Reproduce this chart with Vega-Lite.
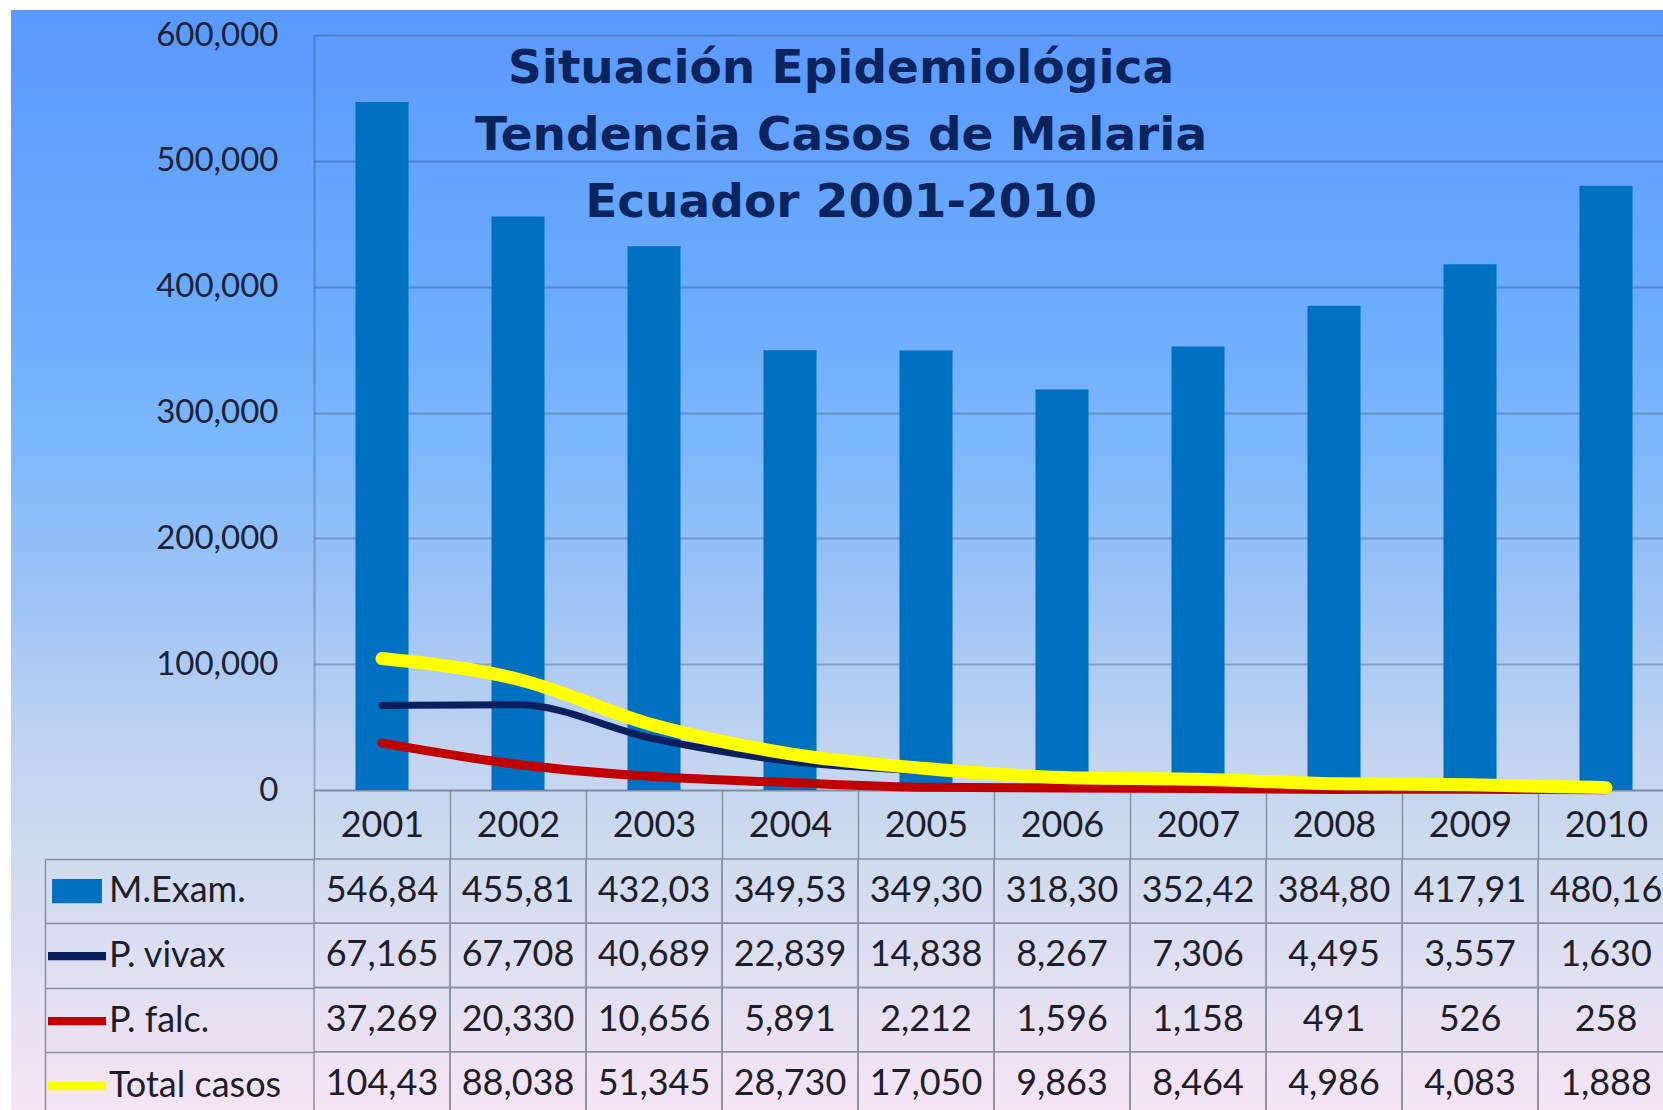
{
  "$schema": "https://vega.github.io/schema/vega-lite/v6.json",
  "autosize": "none",
  "width": 1652,
  "height": 1100,
  "padding": {"left": 11, "top": 10, "right": 0, "bottom": 0},
  "background": "white",
  "title": {
    "text": ["Situación Epidemiológica", "Tendencia Casos de Malaria", "Ecuador 2001-2010"],
    "anchor": "middle",
    "frame": "group",
    "orient": "top",
    "font": "DejaVu Sans",
    "fontSize": 47,
    "fontWeight": "bold",
    "color": "#0b245e",
    "lineHeight": 67,
    "baseline": "top",
    "offset": 0,
    "dx": 4,
    "dy": 217
  },
  "data": {
    "values": [
      {"year": 2001, "series": "M.Exam.", "value": 546840},
      {"year": 2002, "series": "M.Exam.", "value": 455810},
      {"year": 2003, "series": "M.Exam.", "value": 432030},
      {"year": 2004, "series": "M.Exam.", "value": 349530},
      {"year": 2005, "series": "M.Exam.", "value": 349300},
      {"year": 2006, "series": "M.Exam.", "value": 318300},
      {"year": 2007, "series": "M.Exam.", "value": 352420},
      {"year": 2008, "series": "M.Exam.", "value": 384800},
      {"year": 2009, "series": "M.Exam.", "value": 417910},
      {"year": 2010, "series": "M.Exam.", "value": 480160},
      {"year": 2001, "series": "P. vivax", "value": 67165},
      {"year": 2002, "series": "P. vivax", "value": 67708},
      {"year": 2003, "series": "P. vivax", "value": 40689},
      {"year": 2004, "series": "P. vivax", "value": 22839},
      {"year": 2005, "series": "P. vivax", "value": 14838},
      {"year": 2006, "series": "P. vivax", "value": 8267},
      {"year": 2007, "series": "P. vivax", "value": 7306},
      {"year": 2008, "series": "P. vivax", "value": 4495},
      {"year": 2009, "series": "P. vivax", "value": 3557},
      {"year": 2010, "series": "P. vivax", "value": 1630},
      {"year": 2001, "series": "P. falc.", "value": 37269},
      {"year": 2002, "series": "P. falc.", "value": 20330},
      {"year": 2003, "series": "P. falc.", "value": 10656},
      {"year": 2004, "series": "P. falc.", "value": 5891},
      {"year": 2005, "series": "P. falc.", "value": 2212},
      {"year": 2006, "series": "P. falc.", "value": 1596},
      {"year": 2007, "series": "P. falc.", "value": 1158},
      {"year": 2008, "series": "P. falc.", "value": 491},
      {"year": 2009, "series": "P. falc.", "value": 526},
      {"year": 2010, "series": "P. falc.", "value": 258},
      {"year": 2001, "series": "Total casos", "value": 104434},
      {"year": 2002, "series": "Total casos", "value": 88038},
      {"year": 2003, "series": "Total casos", "value": 51345},
      {"year": 2004, "series": "Total casos", "value": 28730},
      {"year": 2005, "series": "Total casos", "value": 17050},
      {"year": 2006, "series": "Total casos", "value": 9863},
      {"year": 2007, "series": "Total casos", "value": 8464},
      {"year": 2008, "series": "Total casos", "value": 4986},
      {"year": 2009, "series": "Total casos", "value": 4083},
      {"year": 2010, "series": "Total casos", "value": 1888}
    ]
  },
  "layer": [
    {
      "encoding": {
        "x": {
          "field": "year",
          "type": "ordinal",
          "scale": {"domain": [2001, 2002, 2003, 2004, 2005, 2006, 2007, 2008, 2009, 2010], "range": [303, 1663], "paddingInner": 0, "paddingOuter": 0},
          "axis": {
            "orient": "bottom",
            "offset": -320,
            "title": null,
            "labelAngle": 0,
            "labelFont": "Lato",
            "labelFontSize": 36,
            "labelColor": "#1e1e2a",
            "labelPadding": -50,
            "labelOverlap": false,
            "tickBand": "extent",
            "tickSize": 68,
            "tickColor": "#8890a0",
            "tickWidth": 1.5,
            "domainColor": "#7f8aa0",
            "domainWidth": 1.5,
            "grid": false
          }
        },
        "y": {
          "field": "value",
          "type": "quantitative",
          "scale": {"domain": [0, 600000], "range": [780, 25], "nice": false, "zero": false},
          "axis": {
            "orient": "left",
            "offset": -303,
            "title": null,
            "values": [0, 100000, 200000, 300000, 400000, 500000, 600000],
            "format": ",d",
            "labelFont": "Lato",
            "labelFontSize": 33,
            "labelColor": "#1c2236",
            "labelPadding": 36,
            "labelOverlap": false,
            "ticks": false,
            "tickSize": 0,
            "domain": true,
            "domainColor": "#30405a",
            "domainOpacity": 0.3,
            "domainWidth": 2,
            "grid": true,
            "gridColor": "#30405a",
            "gridOpacity": 0.3,
            "gridWidth": 2
          }
        },
        "color": {
          "field": "series",
          "type": "nominal",
          "scale": {"domain": ["M.Exam.", "P. vivax", "P. falc.", "Total casos"], "range": ["#0070c0", "#0a1f5c", "#c00000", "#ffff00"]}
        }
      },
      "layer": [
        {
          "transform": [{"filter": "datum.series === 'M.Exam.'"}],
          "mark": {"type": "bar", "width": {"band": 0.39}},
          "encoding": {
            "color": {
              "field": "series",
              "type": "nominal",
              "legend": {
                "orient": "none",
                "legendX": 37,
                "legendY": 849,
                "title": null,
                "padding": 0,
                "symbolSize": 3364,
                "symbolStrokeWidth": 0,
                "clipHeight": 64.25,
                "rowPadding": 0,
                "labelFont": "Lato",
                "labelFontSize": 36,
                "labelColor": "#1e1e2a",
                "labelLimit": 400,
                "labelOffset": 3,
                "encode": {
                  "symbols": {
                    "update": {
                      "shape": {"signal": "datum.value === 'M.Exam.' ? 'M-0.86,-0.42H0.86V0.42H-0.86Z' : 'M-1,-0.14H1V0.14H-1Z'"},
                      "fill": {"signal": "scale('color', datum.value)"},
                      "stroke": {"value": "transparent"},
                      "opacity": {"value": 1}
                    }
                  }
                }
              }
            }
          }
        },
        {
          "transform": [{"filter": "datum.series === 'P. falc.'"}],
          "mark": {"type": "line", "interpolate": "monotone", "strokeWidth": 9, "strokeCap": "round"}
        },
        {
          "transform": [{"filter": "datum.series === 'P. vivax'"}],
          "mark": {"type": "line", "interpolate": "monotone", "strokeWidth": 7, "strokeCap": "round"}
        },
        {
          "transform": [{"filter": "datum.series === 'Total casos'"}],
          "mark": {"type": "line", "interpolate": "monotone", "strokeWidth": 13, "strokeCap": "round"}
        }
      ]
    },
    {
      "encoding": {
        "x": {"field": "year", "type": "ordinal"},
        "y": {
          "field": "series",
          "type": "nominal",
          "scale": {"domain": ["M.Exam.", "P. vivax", "P. falc.", "Total casos"], "range": [849, 1106], "paddingInner": 0, "paddingOuter": 0},
          "axis": {
            "orient": "left",
            "offset": -34,
            "title": null,
            "labels": false,
            "tickBand": "extent",
            "tickSize": -269,
            "tickColor": "#8890a0",
            "tickWidth": 1.5,
            "domainColor": "#8890a0",
            "domainWidth": 1.5,
            "grid": false
          }
        }
      },
      "layer": [
        {
          "mark": {"type": "rect", "fill": null, "fillOpacity": 0, "stroke": "#8890a0", "strokeWidth": 1.5}
        },
        {
          "mark": {"type": "text", "font": "Lato", "fontSize": 36, "color": "#1e1e2a", "align": "center", "baseline": "middle", "limit": 124, "ellipsis": "\u200b"},
          "encoding": {"text": {"field": "value", "type": "quantitative", "format": ","}}
        }
      ]
    }
  ],
  "resolve": {"scale": {"y": "independent"}, "axis": {"y": "independent"}},
  "config": {
    "view": {
      "stroke": null,
      "fill": {
        "gradient": "linear",
        "x1": 0, "y1": 0, "x2": 0, "y2": 1,
        "stops": [
          {"offset": 0, "color": "#5a99fd"},
          {"offset": 0.26, "color": "#6babfd"},
          {"offset": 0.4, "color": "#7db8fc"},
          {"offset": 0.55, "color": "#a2c5f4"},
          {"offset": 0.68, "color": "#c2d4ef"},
          {"offset": 0.78, "color": "#d0dbee"},
          {"offset": 0.9, "color": "#e4e0f1"},
          {"offset": 1, "color": "#f5e5f5"}
        ]
      }
    }
  }
}
